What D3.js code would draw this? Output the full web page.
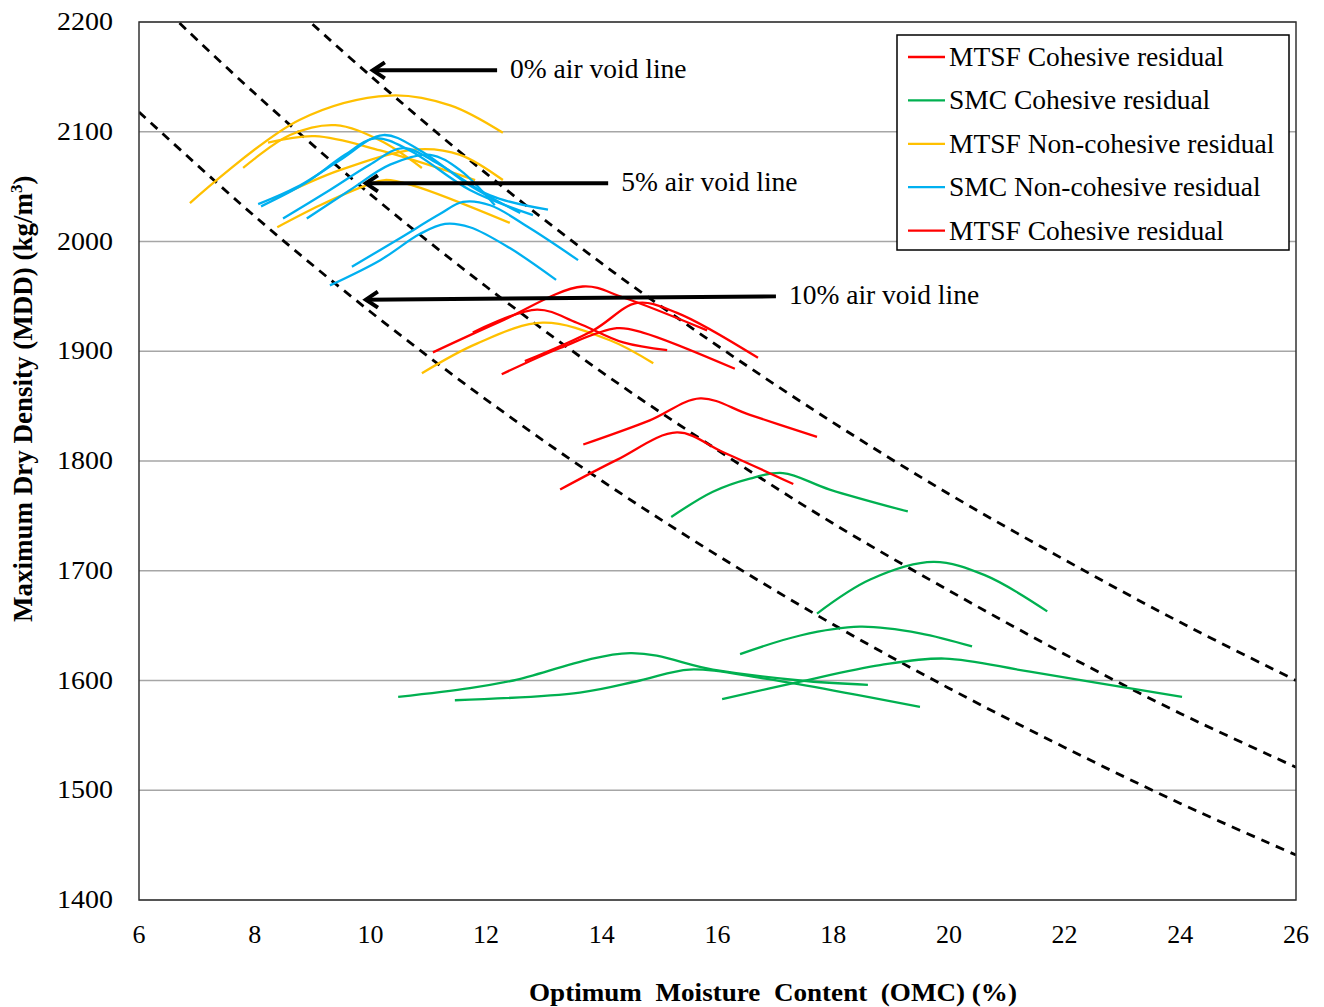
<!DOCTYPE html>
<html>
<head>
<meta charset="utf-8">
<style>
  body { margin: 0; background: #fff; }
  svg { font-family: "Liberation Serif", "Times New Roman", serif; }
</style>
</head>
<body>
<svg width="1324" height="1007"></svg>
<script src="https://d3js.org/d3.v7.min.js"></script>
<script>

// ticks
var xTicks = [6, 8, 10, 12, 14, 16, 18, 20, 22, 24, 26];
var yTicks = [1400, 1500, 1600, 1700, 1800, 1900, 2000, 2100, 2200];

// compaction curves, [OMC %, MDD kg/m3]
var mtsfCohesive = [
  [[11.08, 1899], [12.24, 1927], [13.67, 1959], [14.37, 1949], [15.82, 1919]],
  [[11.77, 1917], [12.88, 1938], [13.57, 1926], [14.37, 1908], [15.13, 1901]],
  [[12.67, 1891], [13.85, 1919], [14.61, 1944], [15.30, 1935], [16.70, 1894]],
  [[12.27, 1879], [13.28, 1903], [14.26, 1921], [14.71, 1917], [16.30, 1884]],
  [[13.68, 1815], [14.83, 1837], [15.70, 1857], [16.56, 1842], [17.72, 1822]],
  [[13.28, 1774], [14.26, 1801], [15.30, 1826], [16.10, 1808], [17.31, 1779]]
];

var smcCohesive = [
  [[15.20, 1749], [15.92, 1772], [16.56, 1784], [17.13, 1789], [17.94, 1774], [19.29, 1754]],
  [[17.72, 1661], [18.64, 1692], [19.73, 1708], [20.62, 1696], [21.70, 1663]],
  [[16.39, 1624], [17.43, 1641], [18.46, 1649], [19.50, 1643], [20.40, 1631]],
  [[16.08, 1583], [17.43, 1599], [18.81, 1614], [19.93, 1620], [21.40, 1608], [24.03, 1585]],
  [[10.48, 1585], [11.72, 1593], [12.47, 1600], [14.49, 1625], [15.92, 1610], [17.43, 1600], [18.60, 1596]],
  [[11.46, 1582], [13.62, 1589], [14.66, 1600], [15.52, 1610], [16.79, 1602], [19.50, 1576]]
];

var mtsfNonCohesive = [
  [[6.88, 2035], [8.78, 2111], [10.34, 2133], [11.38, 2124], [12.29, 2099]],
  [[7.80, 2067], [8.61, 2097], [9.39, 2106], [10.17, 2092], [10.89, 2067]],
  [[8.23, 2090], [9.04, 2096], [10.17, 2083], [11.81, 2056]],
  [[8.30, 2038], [9.47, 2065], [10.81, 2084], [11.55, 2079], [12.29, 2056]],
  [[8.39, 2013], [9.13, 2033], [9.87, 2050], [10.25, 2056], [10.74, 2051], [12.41, 2017]],
  [[10.89, 1880], [11.84, 1907], [12.98, 1926], [14.14, 1910], [14.89, 1889]]
];

var smcNonCohesive = [
  [[8.06, 2034], [8.78, 2051], [9.47, 2074], [10.22, 2097], [10.86, 2083], [11.72, 2051], [12.59, 2026]],
  [[8.11, 2032], [8.87, 2053], [9.56, 2079], [10.08, 2094], [10.68, 2083], [11.72, 2047], [12.81, 2024]],
  [[8.49, 2021], [9.30, 2047], [9.99, 2070], [10.56, 2085], [11.20, 2070], [12.07, 2042], [13.07, 2029]],
  [[8.90, 2021], [9.65, 2047], [10.34, 2070], [11.03, 2079], [11.55, 2065], [12.15, 2033]],
  [[9.68, 1977], [10.51, 2003], [11.20, 2025], [11.60, 2036], [12.07, 2033], [12.76, 2012], [13.59, 1983]],
  [[9.30, 1960], [10.17, 1983], [10.86, 2007], [11.29, 2016], [11.72, 2013], [12.41, 1994], [13.21, 1965]]
];

// air void lines
var voidLine0 = [[9.0, 2198], [10, 2151], [12, 2062], [14, 1980], [16, 1905], [18, 1835], [20, 1770], [22, 1710], [24, 1653], [26, 1600]];
var voidLine5 = [[6.7, 2199], [8, 2135], [10, 2043], [12, 1959], [14, 1881], [16, 1810], [18, 1743], [20, 1682], [22, 1624], [24, 1570], [26, 1521]];
var voidLine10 = [[6, 2118], [8, 2023], [10, 1936], [12, 1856], [14, 1782], [16, 1714], [18, 1651], [20, 1593], [22, 1539], [24, 1488], [26, 1441]];

// arrows pointing at the void lines
var arrowLabels = ["0% air void line", "5% air void line", "10% air void line"];
var arrowTips = [[9.99, 2156], [9.87, 2053], [9.87, 1947]];
var arrowTails = [[12.19, 2156], [14.11, 2053], [17.01, 1950]];

// legend
var legendLabels = ["MTSF Cohesive residual", "SMC Cohesive residual", "MTSF Non-cohesive residual",
                    "SMC Non-cohesive residual", "MTSF Cohesive residual"];
var legendColors = ["#ff0000", "#00b050", "#ffc000", "#00b0f0", "#ff0000"];

var svg = d3.select("svg");

var x = d3.scaleLinear().domain([6, 26]).range([139, 1296]);
var y = d3.scaleLinear().domain([1400, 2200]).range([900, 22]);

svg.append("defs").append("clipPath")
    .attr("id", "plot-clip")
  .append("rect")
    .attr("x", 139).attr("y", 22)
    .attr("width", 1157).attr("height", 878);

svg.select("defs").append("marker")
    .attr("id", "head")
    .attr("markerUnits", "userSpaceOnUse")
    .attr("viewBox", "-16 -11 20 22")
    .attr("markerWidth", 20)
    .attr("markerHeight", 22)
    .attr("refX", 0)
    .attr("refY", 0)
    .attr("orient", "auto-start-reverse")
  .append("path")
    .attr("d", "M-12,-8L0,0L-12,8")
    .attr("fill", "none")
    .attr("stroke", "#000")
    .attr("stroke-width", 4);

// gridlines
svg.append("g")
  .selectAll("line")
  .data(yTicks)
  .enter().append("line")
    .attr("x1", 139).attr("x2", 1296)
    .attr("y1", function(d) { return y(d); })
    .attr("y2", function(d) { return y(d); })
    .attr("stroke", "#a6a6a6")
    .attr("stroke-width", 1.3);

// tick labels
svg.append("g")
    .attr("font-size", 25)
  .selectAll("text")
  .data(yTicks)
  .enter().append("text")
    .attr("x", 57)
    .attr("y", function(d) { return y(d) + 8; })
    .attr("textLength", 56)
    .attr("lengthAdjust", "spacingAndGlyphs")
    .text(function(d) { return d; });

svg.append("g")
    .attr("font-size", 26)
    .attr("text-anchor", "middle")
  .selectAll("text")
  .data(xTicks)
  .enter().append("text")
    .attr("x", function(d) { return x(d); })
    .attr("y", 943)
    .text(function(d) { return d; });

// axis titles
svg.append("text")
    .attr("x", 529)
    .attr("y", 1001)
    .attr("font-size", 26)
    .attr("font-weight", "bold")
    .attr("textLength", 488)
    .attr("lengthAdjust", "spacingAndGlyphs")
    .attr("xml:space", "preserve")
    .text("Optimum  Moisture  Content  (OMC) (%)");

var yTitle = svg.append("text")
    .attr("transform", "translate(32,622) rotate(-90)")
    .attr("font-size", 27)
    .attr("font-weight", "bold");
yTitle.append("tspan").text("Maximum Dry Density (MDD) (kg/m");
yTitle.append("tspan").attr("font-size", 17).attr("dy", -10).text("3");
yTitle.append("tspan").attr("dy", 10).text(")");

var line = d3.line()
    .x(function(d) { return x(d[0]); })
    .y(function(d) { return y(d[1]); })
    .curve(d3.curveCatmullRom.alpha(0.5));

var plot = svg.append("g").attr("clip-path", "url(#plot-clip)");

// void lines
plot.selectAll(".void")
  .data([voidLine0, voidLine5, voidLine10])
  .enter().append("path")
    .attr("class", "void")
    .attr("d", line)
    .attr("fill", "none")
    .attr("stroke", "#000")
    .attr("stroke-width", 2.8)
    .attr("stroke-dasharray", "9,7");

var groups = [
  {curves: smcCohesive, color: "#00b050"},
  {curves: mtsfNonCohesive, color: "#ffc000"},
  {curves: smcNonCohesive, color: "#00b0f0"},
  {curves: mtsfCohesive, color: "#ff0000"}
];

groups.forEach(function(g) {
  plot.append("g")
    .selectAll("path")
    .data(g.curves)
    .enter().append("path")
      .attr("d", line)
      .attr("fill", "none")
      .attr("stroke", g.color)
      .attr("stroke-width", 2.3);
});

// frame
svg.append("rect")
    .attr("x", 139).attr("y", 22)
    .attr("width", 1157).attr("height", 878)
    .attr("fill", "none")
    .attr("stroke", "#333")
    .attr("stroke-width", 1.5);

// arrows and labels
var arrows = svg.append("g");
arrowLabels.forEach(function(label, i) {
  arrows.append("line")
      .attr("x1", x(arrowTails[i][0])).attr("y1", y(arrowTails[i][1]))
      .attr("x2", x(arrowTips[i][0]) + 3).attr("y2", y(arrowTips[i][1]))
      .attr("stroke", "#000")
      .attr("stroke-width", 4)
      .attr("marker-end", "url(#head)");
  arrows.append("text")
      .attr("x", x(arrowTails[i][0]) + 13)
      .attr("y", y(arrowTails[i][1]) + 8)
      .attr("font-size", 27.5)
      .text(label);
});

// legend
var legend = svg.append("g");
legend.append("rect")
    .attr("x", 897).attr("y", 35)
    .attr("width", 392).attr("height", 215)
    .attr("fill", "#fff")
    .attr("stroke", "#000")
    .attr("stroke-width", 1.5);

var item = legend.selectAll(".item")
  .data(legendLabels)
  .enter().append("g")
    .attr("class", "item")
    .attr("transform", function(d, i) { return "translate(0," + (57 + i * 43.4) + ")"; });

item.append("line")
    .attr("x1", 908).attr("x2", 945)
    .attr("stroke", function(d, i) { return legendColors[i]; })
    .attr("stroke-width", 2.3);

item.append("text")
    .attr("x", 949)
    .attr("y", 9)
    .attr("font-size", 27.5)
    .text(function(d) { return d; });

</script>
</body>
</html>
